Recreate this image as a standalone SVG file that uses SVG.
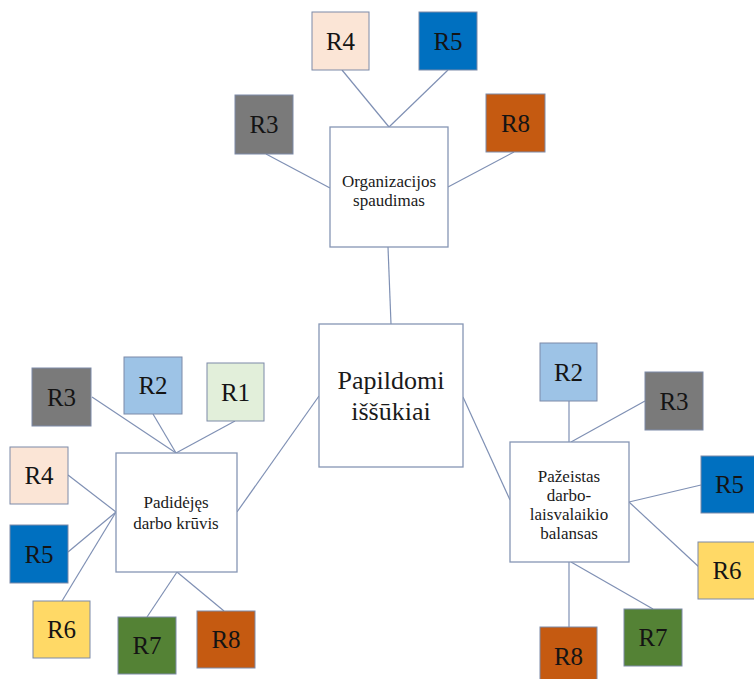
<svg xmlns="http://www.w3.org/2000/svg" width="754" height="679" viewBox="0 0 754 679">
<style>
.bg{fill:#ffffff}
.main{fill:#ffffff;stroke:#8696b4;stroke-width:1.3}
.r{stroke:#7d8aa8;stroke-width:1}
text{font-family:'Liberation Serif','DejaVu Serif',serif;text-anchor:middle}
.lbl{font-size:25px;fill:#141414}
.mt{font-size:17px;fill:#1a1a1a}
.ct{font-size:26px;fill:#1a1a1a}
.c{stroke:#7f90b4;stroke-width:1.2;fill:none}
.c1{fill:#e2efda}.c2{fill:#9dc3e6}.c3{fill:#7a7a7a}.c4{fill:#fbe5d6}.c5{fill:#0070c0}.c6{fill:#ffd966}.c7{fill:#548235}.c8{fill:#c55a11}
</style>
<rect class="bg" x="0" y="0" width="754" height="679"/>
<g id="connectors">
<line class="c" x1="388" y1="247" x2="391" y2="324"/>
<line class="c" x1="342" y1="70" x2="389" y2="127"/>
<line class="c" x1="448" y1="70" x2="389" y2="127"/>
<line class="c" x1="266" y1="154" x2="330" y2="188"/>
<line class="c" x1="514" y1="152" x2="448" y2="187"/>
<line class="c" x1="319" y1="396" x2="237" y2="512"/>
<line class="c" x1="463" y1="397" x2="510" y2="500"/>
<line class="c" x1="92" y1="397" x2="176" y2="453"/>
<line class="c" x1="153" y1="414" x2="176" y2="453"/>
<line class="c" x1="235" y1="421" x2="176" y2="453"/>
<line class="c" x1="68" y1="475" x2="116" y2="512"/>
<line class="c" x1="68" y1="552" x2="116" y2="512"/>
<line class="c" x1="62" y1="601" x2="116" y2="512"/>
<line class="c" x1="147" y1="617" x2="177" y2="572"/>
<line class="c" x1="224" y1="611" x2="177" y2="572"/>
<line class="c" x1="569" y1="401" x2="569" y2="442"/>
<line class="c" x1="645" y1="401" x2="571" y2="442"/>
<line class="c" x1="701" y1="485" x2="629" y2="502"/>
<line class="c" x1="699" y1="567" x2="629" y2="502"/>
<line class="c" x1="653" y1="609" x2="571" y2="562"/>
<line class="c" x1="569" y1="627" x2="569" y2="562"/>
</g>
<g id="center">
<rect class="main" x="319" y="324" width="144" height="143"/>
<text class="ct" x="391" y="389">Papildomi</text>
<text class="ct" x="391" y="420">iššūkiai</text>
</g>
<g id="org">
<rect class="main" x="330" y="127" width="118" height="120"/>
<text class="mt" x="389" y="187">Organizacijos</text>
<text class="mt" x="389" y="206">spaudimas</text>
</g>
<g id="pad">
<rect class="main" x="116" y="453" width="121" height="119"/>
<text class="mt" x="176" y="508">Padidėjęs</text>
<text class="mt" x="176" y="529">darbo krūvis</text>
</g>
<g id="paz">
<rect class="main" x="510" y="442" width="119" height="120"/>
<text class="mt" x="569" y="482">Pažeistas</text>
<text class="mt" x="569" y="501">darbo-</text>
<text class="mt" x="569" y="520">laisvalaikio</text>
<text class="mt" x="569" y="539">balansas</text>
</g>
<g id="org-r4"><rect class="r c4" x="312" y="12" width="57" height="58"/><text class="lbl" x="340.5" y="50">R4</text></g>
<g id="org-r5"><rect class="r c5" x="419" y="12" width="58" height="58"/><text class="lbl" x="448" y="50">R5</text></g>
<g id="org-r3"><rect class="r c3" x="235" y="95" width="58" height="59"/><text class="lbl" x="264" y="133">R3</text></g>
<g id="org-r8"><rect class="r c8" x="486" y="94" width="59" height="58"/><text class="lbl" x="515.5" y="132">R8</text></g>
<g id="pad-r3"><rect class="r c3" x="32" y="368" width="59" height="58"/><text class="lbl" x="61.5" y="406">R3</text></g>
<g id="pad-r2"><rect class="r c2" x="124" y="357" width="58" height="57"/><text class="lbl" x="153" y="394">R2</text></g>
<g id="pad-r1"><rect class="r c1" x="207" y="363" width="57" height="58"/><text class="lbl" x="235.5" y="401">R1</text></g>
<g id="pad-r4"><rect class="r c4" x="10" y="447" width="58" height="57"/><text class="lbl" x="39" y="484">R4</text></g>
<g id="pad-r5"><rect class="r c5" x="10" y="525" width="58" height="58"/><text class="lbl" x="39" y="563">R5</text></g>
<g id="pad-r6"><rect class="r c6" x="33" y="601" width="57" height="57"/><text class="lbl" x="61.5" y="638">R6</text></g>
<g id="pad-r7"><rect class="r c7" x="118" y="617" width="58" height="57"/><text class="lbl" x="147" y="654">R7</text></g>
<g id="pad-r8"><rect class="r c8" x="197" y="611" width="58" height="57"/><text class="lbl" x="226" y="648">R8</text></g>
<g id="paz-r2"><rect class="r c2" x="540" y="343" width="57" height="58"/><text class="lbl" x="568.5" y="381">R2</text></g>
<g id="paz-r3"><rect class="r c3" x="645" y="372" width="58" height="58"/><text class="lbl" x="674" y="410">R3</text></g>
<g id="paz-r5"><rect class="r c5" x="701" y="456" width="57" height="57"/><text class="lbl" x="729.5" y="493">R5</text></g>
<g id="paz-r6"><rect class="r c6" x="698" y="542" width="58" height="57"/><text class="lbl" x="727" y="579">R6</text></g>
<g id="paz-r7"><rect class="r c7" x="624" y="609" width="58" height="57"/><text class="lbl" x="653" y="646">R7</text></g>
<g id="paz-r8"><rect class="r c8" x="540" y="627" width="57" height="58"/><text class="lbl" x="568.5" y="665">R8</text></g>
</svg>
